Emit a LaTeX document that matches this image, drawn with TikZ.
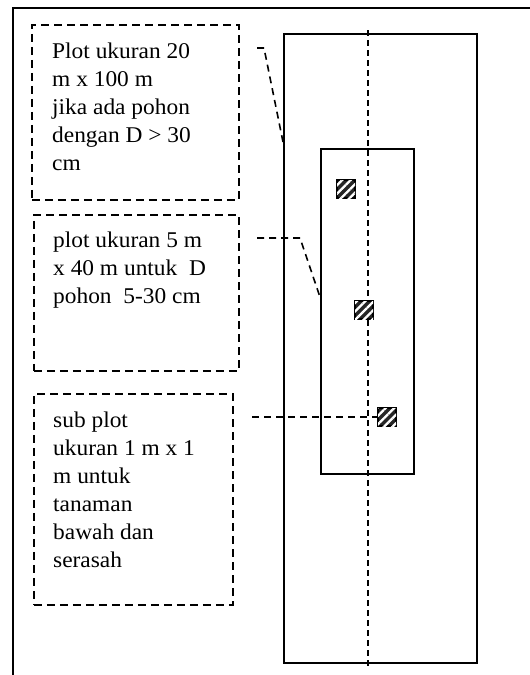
\documentclass[tikz,border=0pt]{standalone}
\usepackage{fontspec}
\setmainfont{Liberation Serif}[FakeStretch=1.04]
\usepackage{tikz}
\usetikzlibrary{patterns.meta}

\begin{document}
\begin{tikzpicture}[
  x=1pt, y=-1pt,
  note/.style={
    draw,
    dash pattern=on 8pt off 5pt,
    line width=1.6pt,
    inner sep=0pt,
    anchor=north west
  },
  plotbox/.style={
    draw,
    line width=1.7pt,
    inner sep=0pt,
    anchor=north west
  },
  txt/.style={
    anchor=north west,
    inner sep=0pt,
    align=left,
    font=\fontsize{22.5}{28}\selectfont
  },
  tree/.style={
    draw,
    line width=1.3pt,
    fill=black!85,
    minimum size=18pt,
    inner sep=0pt,
    postaction={pattern={Lines[angle=45,distance=6pt,line width=2.2pt]}, pattern color=white}
  },
  link/.style={dash pattern=on 7pt off 5pt, line width=1.6pt}
]
\useasboundingbox (0,0) rectangle (530,675);
% frame
\draw[line width=2pt] (530,8) -- (13,8) -- (13,675);

% label boxes
\node[note, minimum width=207pt, minimum height=175pt] (b1) at (31,24) {};
\node[note, minimum width=205pt, minimum height=156pt] (b2) at (33,214) {};
\node[note, minimum width=199pt, minimum height=211pt] (b3) at (33,393) {};

\node[txt] (t1) at (52,38.4) {\strut Plot ukuran 20\\m x 100 m\\jika ada pohon\\dengan D > 30\\cm};
\node[txt] (t2) at (53,227.4) {\strut plot ukuran 5 m\\x 40 m untuk~ D\\pohon~ 5-30 cm};
\node[txt] (t3) at (53,407.4) {\strut sub plot\\ukuran 1 m x 1\\m untuk\\tanaman\\bawah dan\\serasah};

% plots
\node[plotbox, minimum width=193pt, minimum height=629pt] (plot20) at (283,33) {};
\node[plotbox, minimum width=93pt, minimum height=325pt] (plot5) at (320,148) {};

\coordinate (axt) at (368,30);
\coordinate (axb) at (368,668);
\draw[link, dash pattern=on 6pt off 4pt, line width=1.3pt] (axt) -- (axb);

\node[tree] (sq1) at (346,189) {};
\node[tree] (sq2) at (364,310) {};
\node[tree] (sq3) at (387,417) {};

% connectors
\coordinate (c1) at (257,48);
\coordinate (c2) at (257,238);
\coordinate (c3) at (252,417);
\draw[link] (c1) -- ++(7,0) -- ([yshift=-109pt]plot20.north west);
\draw[link] (c2) -- ++(43,0) -- ([yshift=-149pt]plot5.north west);
\draw[link] (c3) -- (sq3.west);
\end{tikzpicture}
\end{document}
